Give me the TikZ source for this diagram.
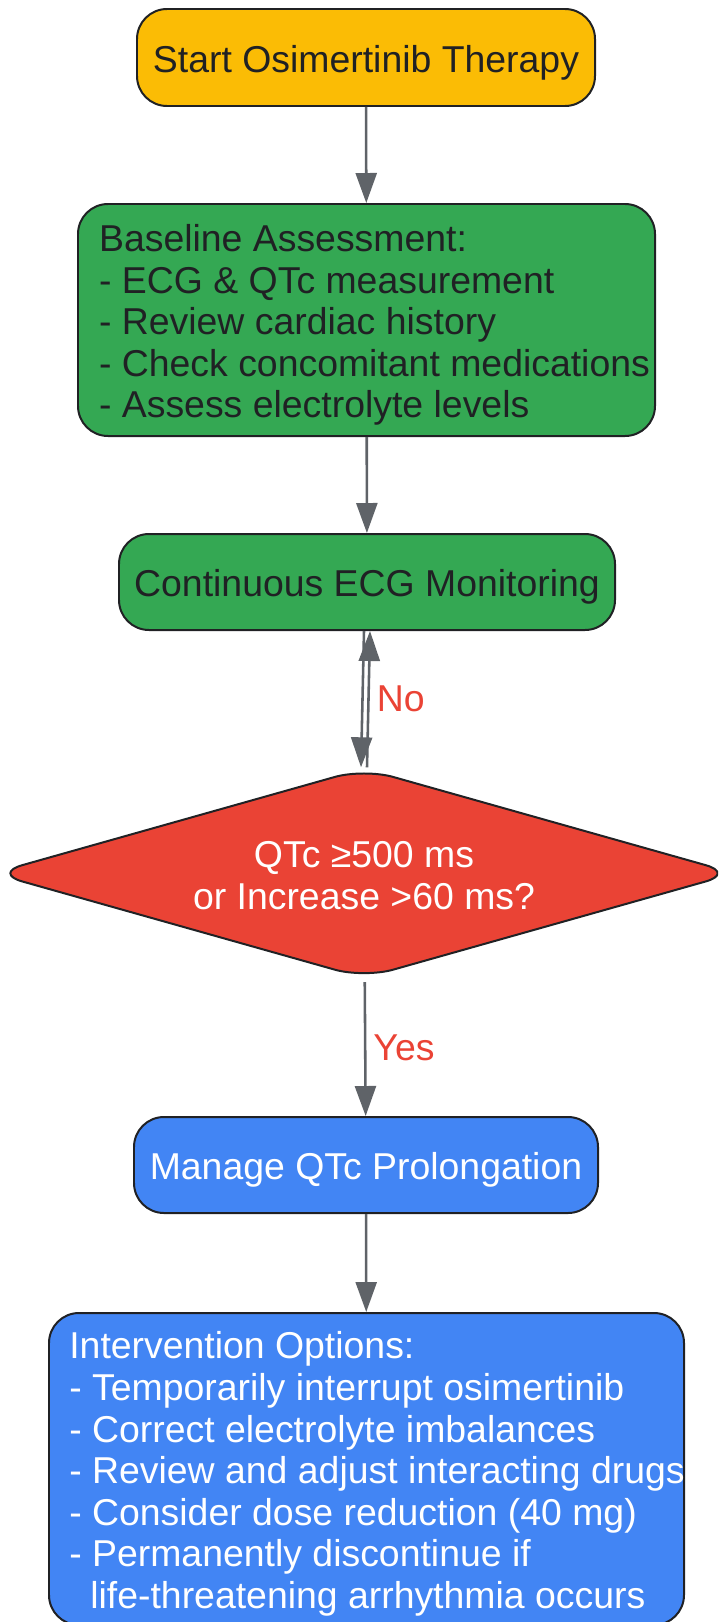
\documentclass[tikz,border=0pt]{standalone}
\usepackage{fontspec}
\setmainfont{Liberation Sans}
\usetikzlibrary{arrows.meta}
\usetikzlibrary{shapes.geometric}
\definecolor{startyellow}{HTML}{FBBC05}
\definecolor{stepgreen}{HTML}{34A853}
\definecolor{checkred}{HTML}{EA4335}
\definecolor{manageblue}{HTML}{4285F4}
\definecolor{darkline}{HTML}{202124}
\definecolor{arrowgray}{HTML}{5F6368}

\begin{document}
\begin{tikzpicture}[x=1pt,y=-1pt]
		  \tikzset{
			box/.style={draw=darkline,line width=0.7mm,rounded corners=30pt,inner xsep=10pt,
			  font=\fontsize{37.4}{41.6}\selectfont},
			oneline/.style={text height=37pt,text depth=8pt},
			flow/.style={draw=arrowgray,line width=0.9mm,-{Triangle[length=30pt,width=21pt]}},
			edgelabel/.style={text=checkred,right,inner sep=7pt,font=\fontsize{37.4}{41.6}\selectfont},
		  }
		  %FRAME
		  \useasboundingbox (0,0) rectangle (718,1622);
		  \clip (0,0) rectangle (718,1622);
		  %START
		  \node[box,oneline,fill=startyellow,text=darkline,minimum width=458pt,minimum height=97pt] (start) at (366,57.5) {Start Osimertinib Therapy};
		  %BASELINE
		  \node[box,fill=stepgreen,text=darkline,align=left,minimum width=577pt,minimum height=232pt] (baseline) at (366.5,320) {\rule{0pt}{37pt}Baseline Assessment:\\- ECG \& QTc measurement\\- Review cardiac history\\- Check concomitant medications\kern-16pt\\- Assess electrolyte levels};
		  %MONITORING
		  \node[box,oneline,fill=stepgreen,text=darkline,minimum width=496pt,minimum height=96pt] (monitor) at (367,582) {Continuous ECG Monitoring};
		  %DECISION
		  \node[diamond,aspect=3.54,draw=darkline,line width=0.7mm,rounded corners=30pt,fill=checkred,text=white,align=center,inner sep=0pt,
			minimum width=742pt,minimum height=210pt,font=\fontsize{37.4}{41.6}\selectfont] (check) at (364,873.3) {\rule{0pt}{31pt}QTc ≥500 ms\\or Increase >60 ms?};
		  %MANAGE
		  \node[box,oneline,fill=manageblue,text=white,minimum width=464pt,minimum height=96pt] (manage) at (366,1165) {Manage QTc Prolongation};
		  %OPTIONS
		  \node[box,fill=manageblue,text=white,align=left,minimum width=635pt,minimum height=312pt] (options) at (366.5,1469) {\rule{0pt}{37pt}Intervention Options:\\- Temporarily interrupt osimertinib\\- Correct electrolyte imbalances\\- Review and adjust interacting drugs\kern-21pt\\- Consider dose reduction (40 mg)\\- Permanently discontinue if\\\hspace*{21pt}life-threatening arrhythmia occurs};
		
		  %ARROWS
		  \draw[flow] (start) -- (baseline);
		  \draw[flow] (baseline) -- (monitor);
		  \draw[flow] ([xshift=-3pt]monitor.south) -- ([xshift=-3pt]check.north);
		  \draw[flow] ([xshift=3pt]check.north) -- node[edgelabel] (no) {No} ([xshift=3pt]monitor.south);
		  \draw[flow,shorten <=3pt] (check) -- node[edgelabel] (yes) {Yes} (manage);
		  \draw[flow] (manage) -- (options);
		  \end{tikzpicture}
\end{document}
